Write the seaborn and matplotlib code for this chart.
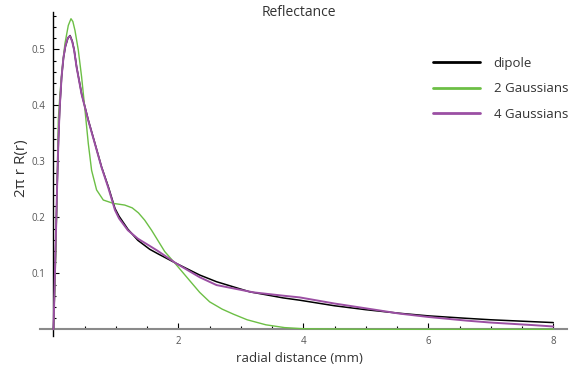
import matplotlib
matplotlib.use("Agg")
import matplotlib.pyplot as plt
from matplotlib.ticker import MultipleLocator, FixedLocator
import seaborn as sns
import pandas as pd

# values
r_dipole = [0, 0.02, 0.04, 0.06, 0.08, 0.1, 0.13, 0.16, 0.19, 0.23, 0.265, 0.3, 0.33, 0.37,
            0.45, 0.557, 0.664, 0.77, 0.877, 0.984, 1.05, 1.19, 1.35, 1.54, 1.67, 1.96,
            2.34, 2.61, 3.14, 3.68, 3.94, 4.5, 5.0, 5.54, 6.0, 6.61, 7.0, 7.67, 8.0]
dipole = [0, 0.08, 0.17, 0.26, 0.34, 0.395, 0.451, 0.485, 0.505, 0.52, 0.525, 0.515, 0.5, 0.469,
          0.421, 0.374, 0.332, 0.29, 0.255, 0.216, 0.202, 0.179, 0.159, 0.143, 0.135, 0.118,
          0.097, 0.085, 0.067, 0.056, 0.052, 0.042, 0.035, 0.0286, 0.024, 0.0196, 0.017, 0.0136, 0.012]

r_g4 = [0, 0.02, 0.04, 0.06, 0.08, 0.1, 0.13, 0.16, 0.19, 0.23, 0.265, 0.3, 0.33, 0.37,
        0.45, 0.557, 0.664, 0.77, 0.877, 0.984, 1.05, 1.19, 1.35, 1.54, 1.67, 1.96,
        2.34, 2.61, 3.2, 3.68, 3.94, 4.5, 5.2, 5.54, 6.0, 6.61, 7.0, 7.67, 8.0]
gauss4 = [0, 0.085, 0.175, 0.265, 0.342, 0.397, 0.452, 0.486, 0.506, 0.521, 0.524, 0.514, 0.499, 0.468,
          0.42, 0.373, 0.331, 0.289, 0.253, 0.213, 0.198, 0.177, 0.162, 0.149, 0.14, 0.118,
          0.093, 0.079, 0.066, 0.06, 0.057, 0.046, 0.034, 0.028, 0.022, 0.0155, 0.012, 0.0075, 0.005]

r_g2 = [0, 0.02, 0.04, 0.077, 0.104, 0.141, 0.184, 0.237, 0.28, 0.31, 0.344, 0.397, 0.45,
        0.504, 0.557, 0.61, 0.69, 0.797, 0.957, 1.14, 1.26, 1.36, 1.46, 1.57, 1.78, 1.96, 2.18,
        2.34, 2.5, 2.7, 2.88, 3.1, 3.4, 3.7, 4.0, 5.0, 6.0, 7.0, 8.0]
gauss2 = [0, 0.07, 0.15, 0.374, 0.421, 0.469, 0.511, 0.543, 0.555, 0.55, 0.534, 0.499, 0.451,
          0.392, 0.332, 0.284, 0.249, 0.231, 0.225, 0.222, 0.217, 0.208, 0.195, 0.177, 0.139, 0.116, 0.087,
          0.066, 0.049, 0.036, 0.027, 0.017, 0.008, 0.003, 0.001, 0, 0, 0, 0]

labels = ["dipole", "2 Gaussians", "4 Gaussians"]
colors = ["#000000", "#6cbf45", "#9b4fa3"]

df = pd.concat([
    pd.DataFrame({"r": r_dipole, "val": dipole, "model": labels[0]}),
    pd.DataFrame({"r": r_g2, "val": gauss2, "model": labels[1]}),
    pd.DataFrame({"r": r_g4, "val": gauss4, "model": labels[2]}),
])

sns.set_style("white")
plt.rcParams["font.family"] = ["Open Sans", "DejaVu Sans"]

fig = plt.figure(figsize=(5.81, 3.71), dpi=100)
W, H = 581, 371
ax = fig.add_axes([40 / W, (H - 336) / H, (567 - 40) / W, (336 - 12) / H])

sns.lineplot(data=df, x="r", y="val", hue="model", palette=dict(zip(labels, colors)),
             estimator=None, sort=False, ax=ax, legend=False)
for line, lw in zip(ax.get_lines(), [1.1, 1.0, 1.4]):
    line.set_linewidth(lw)
    line.set_zorder(3)

ax.set_xlim(-0.216, 8.22)
ax.set_ylim(-0.012, 0.567)

for s in ["top", "right"]:
    ax.spines[s].set_visible(False)
ax.spines["left"].set_position(("data", 0))
ax.spines["bottom"].set_position(("data", 0))
ax.spines["bottom"].set_color("#8a8a8a")
ax.spines["bottom"].set_linewidth(1.5)
ax.spines["left"].set_color("black")
ax.spines["left"].set_linewidth(1.0)

ax.xaxis.set_major_locator(FixedLocator([2, 4, 6, 8]))
ax.xaxis.set_minor_locator(MultipleLocator(0.5))
ax.yaxis.set_major_locator(FixedLocator([0.1, 0.2, 0.3, 0.4, 0.5]))
ax.yaxis.set_minor_locator(FixedLocator([i * 0.02 for i in range(1, 29)]))
ax.set_xticklabels(["2", "4", "6", "8"])
ax.set_yticklabels(["0.1", "0.2", "0.3", "0.4", "0.5"])
ax.tick_params(which="both", direction="in", bottom=True, left=True, colors="black",
               labelcolor="#555555", labelsize=7, width=0.8)
ax.tick_params(which="major", length=4)
ax.tick_params(which="minor", length=2.5)
ax.tick_params(axis="y", pad=6)
ax.tick_params(axis="x", pad=5)
ax.set_xlabel("")
ax.set_ylabel("")

fig.text(299 / W, 1 - 12 / H, "Reflectance", ha="center", va="center",
         fontsize=10, color="#333333")
fig.text(299 / W, 1 - 358 / H, "radial distance (mm)", ha="center", va="center",
         fontsize=9.5, color="#333333")
fig.text(22 / W, 1 - 168 / H, "2π r R(r)", ha="center", va="center",
         rotation=90, fontsize=11, color="#333333")

handles = [plt.Line2D([], [], color=c, lw=2) for c in colors]
ax.legend(handles, labels, loc="upper left", bbox_to_anchor=(421 / W, 1 - 45 / H),
          bbox_transform=fig.transFigure, frameon=False, fontsize=9.5,
          handlelength=3.6, handletextpad=1.0, labelspacing=0.95, labelcolor="#333333")

fig.savefig("out.png", dpi=100)
